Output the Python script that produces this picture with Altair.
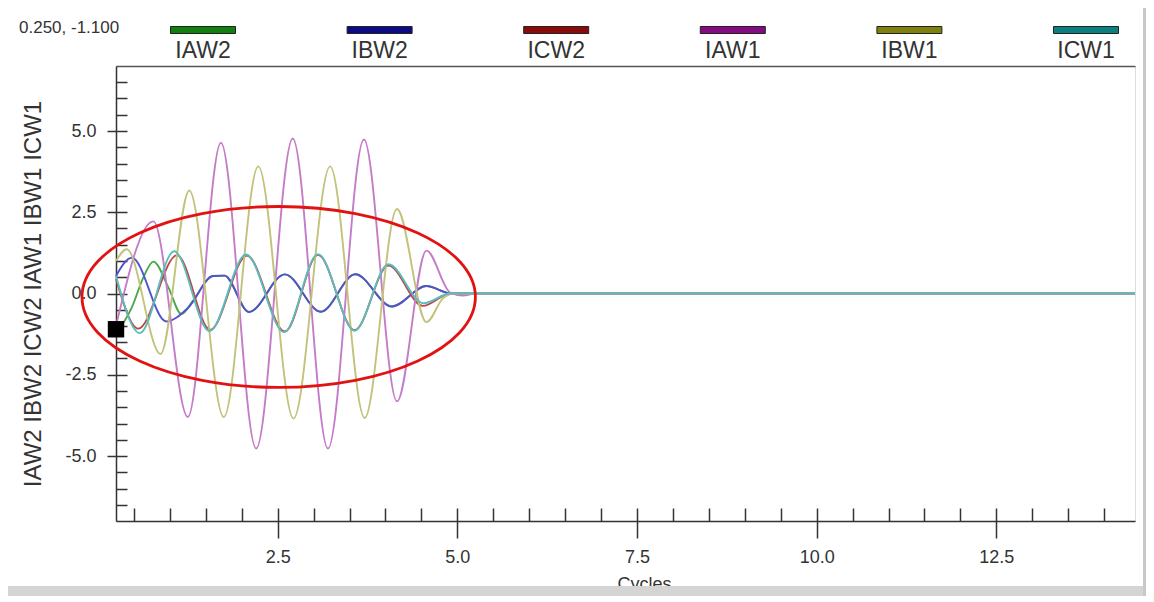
import altair as alt
import pandas as pd

# ---------------- data ----------------
series_names = ["IAW2", "IBW2", "ICW2", "IAW1", "IBW1", "ICW1"]
line_colors = ["#4aa84a", "#5252cc", "#b84a4a", "#c47cc8", "#c2c27a", "#5cbcbc"]
swatch_colors = ["#0f7f0f", "#0b0b85", "#8a0b0b", "#850b85", "#80800f", "#0b8080"]

iaw2_x = [0.25, 0.47, 0.63, 0.77, 0.98, 1.16, 1.32, 1.60, 1.76, 2.10, 2.60, 3.10, 3.58, 4.09, 4.57, 4.92, 14.43]
iaw2_y = [-1.25, -0.43, 0.49, 0.98, 0.18, -0.63, -0.23, 0.54, 0.55, -0.57, 0.59, -0.56, 0.59, -0.40, 0.23, 0.0, 0.0]

ibw2_x = [0.25, 0.47, 0.95, 1.25, 1.60, 1.76, 2.10, 2.60, 3.10, 3.58, 4.09, 4.57, 4.92, 14.43]
ibw2_y = [0.54, 1.10, -0.86, -0.45, 0.54, 0.55, -0.57, 0.59, -0.56, 0.59, -0.40, 0.23, 0.0, 0.0]

icw2_x = [0.25, 0.56, 1.10, 1.56, 2.07, 2.60, 3.06, 3.57, 4.04, 4.52, 4.90, 14.43]
icw2_y = [0.45, -1.08, 1.18, -1.12, 1.17, -1.17, 1.19, -1.13, 0.86, -0.38, 0.0, 0.0]

iaw1_x = [0.25, 0.77, 1.25, 1.71, 2.20, 2.71, 3.20, 3.70, 4.16, 4.57, 4.90, 5.08, 5.25, 14.43]
iaw1_y = [-1.0, 2.22, -3.80, 4.64, -4.77, 4.77, -4.77, 4.74, -3.32, 1.32, 0.03, -0.06, 0.0, 0.0]

ibw1_x = [0.25, 0.40, 0.87, 1.27, 1.75, 2.23, 2.72, 3.23, 3.71, 4.16, 4.57, 4.80, 4.95, 14.43]
ibw1_y = [1.0, 1.36, -1.86, 3.17, -3.80, 3.91, -3.85, 3.91, -3.83, 2.60, -0.88, -0.15, 0.0, 0.0]

icw1_x = [0.25, 0.58, 1.06, 1.55, 2.06, 2.59, 3.06, 3.57, 4.04, 4.53, 4.90, 14.43]
icw1_y = [0.54, -1.22, 1.30, -1.16, 1.20, -1.19, 1.21, -1.15, 0.90, -0.30, 0.0, 0.0]

cursor_x = [0.25]
cursor_y = [-1.1]
cursor_label = ["0.250, -1.100"]

ellipse_x = [2.514]
ellipse_y = [-0.107]

x_domain = [0.25, 14.43]
y_domain = [-7.0, 7.0]
x_major = [2.5, 5.0, 7.5, 10.0, 12.5]
y_major = [-5.0, -2.5, 0.0, 2.5, 5.0]
x_minor = [i * 0.5 for i in range(1, 29)]
y_minor = [i * 0.5 for i in range(-13, 14)]

# ---------------- tables ----------------
xs = [iaw2_x, ibw2_x, icw2_x, iaw1_x, ibw1_x, icw1_x]
ys = [iaw2_y, ibw2_y, icw2_y, iaw1_y, ibw1_y, icw1_y]
rows = []
for name, sx, sy in zip(series_names, xs, ys):
    for a, b in zip(sx, sy):
        rows.append({"series": name, "x": a, "y": b})
df = pd.DataFrame(rows)

legend_df = pd.DataFrame({"series": series_names, "swatch": swatch_colors})
cursor_df = pd.DataFrame({"x": cursor_x, "y": cursor_y, "label": cursor_label})
ellipse_df = pd.DataFrame({"x": ellipse_x, "y": ellipse_y})
frame_df = pd.DataFrame({"k": [0]})

FONT = "Liberation Sans"
TXT = "#333333"
AX = "#333333"
W, H = 1019, 455

xs_scale = alt.Scale(domain=x_domain, nice=False, zero=False)
ys_scale = alt.Scale(domain=y_domain, nice=False, zero=False)
minus_fix = "replace(format(datum.value, '.1f'), '\u2212', '-')"

lines = alt.Chart(df).mark_line(interpolate="monotone", strokeWidth=1.9).encode(
    x=alt.X("x:Q", scale=xs_scale, axis=alt.Axis(
        orient="bottom", values=x_major, labelExpr=minus_fix, grid=False,
        tickSize=17, tickWidth=1.5, tickColor=AX, domainColor=AX, domainWidth=1.5,
        labelFontSize=18, labelFont=FONT, labelColor=TXT, labelPadding=10,
        title="Cycles", titleFont=FONT, titleFontSize=18, titleFontWeight="normal",
        titleColor=TXT, titleX=528, titleY=54, titleBaseline="top", titleAlign="center")),
    y=alt.Y("y:Q", scale=ys_scale, axis=alt.Axis(
        orient="left", values=y_major, labelExpr=minus_fix, grid=False,
        tickSize=9, tickWidth=1.5, tickColor=AX, domainColor=AX, domainWidth=1.5,
        labelFontSize=18, labelFont=FONT, labelColor=TXT, labelPadding=11,
        title="IAW2 IBW2 ICW2 IAW1 IBW1 ICW1", titleFont=FONT, titleFontSize=24,
        titleFontWeight="normal", titleColor=TXT, titleAngle=270, titleX=-83,
        titleY=227.5, titleAlign="center", titleBaseline="middle")),
    color=alt.Color("series:N", scale=alt.Scale(domain=series_names, range=line_colors), legend=None),
)

ELL = ("M-1,0C-1,-0.254,-0.552,-0.46,0,-0.46C0.552,-0.46,1,-0.254,1,0"
       "C1,0.254,0.552,0.46,0,0.46C-0.552,0.46,-1,0.254,-1,0Z")

ellipse = alt.Chart(ellipse_df).mark_point(
    shape=ELL, size=154764, filled=False, color="#e31212", strokeWidth=2.8, opacity=1
).encode(
    x=alt.X("x:Q", scale=xs_scale, axis=alt.Axis(
        orient="top", offset=-H, values=x_minor, tickSize=13, tickWidth=1.5,
        tickColor=AX, labels=False, domain=False, grid=False, title=None)),
    y=alt.Y("y:Q", scale=ys_scale, axis=alt.Axis(
        orient="right", offset=-W, values=y_minor, tickSize=11, tickWidth=1.5,
        tickColor=AX, labels=False, domain=False, grid=False, title=None)),
)

cursor = alt.Chart(cursor_df).mark_square(size=270, color="black", opacity=1).encode(
    x=alt.X("x:Q", scale=xs_scale, axis=alt.Axis(
        orient="top", ticks=False, labels=False, grid=False, title=None,
        domainColor="#555555", domainWidth=1.3)),
    y=alt.Y("y:Q", scale=ys_scale, axis=None),
)

cursor_text = alt.Chart(cursor_df).mark_text(
    align="left", baseline="middle", fontSize=17, font=FONT, color=TXT
).encode(x=alt.value(-97), y=alt.value(-38), text="label:N")

leg_scale = alt.Scale(type="point", domain=series_names, range=[87, 970], padding=0)
swatches = alt.Chart(legend_df).mark_tick(
    orient="horizontal", size=65, thickness=7, stroke="#222222", strokeWidth=1, opacity=1
).encode(
    x=alt.X("series:N", scale=leg_scale, axis=None),
    y=alt.value(-36),
    color=alt.Color("swatch:N", scale=None),
)
leg_text = alt.Chart(legend_df).mark_text(
    fontSize=23, font=FONT, color=TXT, baseline="middle", align="center"
).encode(
    x=alt.X("series:N", scale=leg_scale, axis=None),
    y=alt.value(-15),
    text="series:N",
)

# window frame of the screenshot (right edge and bottom band)
frame_bottom = alt.Chart(frame_df).mark_rect(color="#d4d4d4").encode(
    x=alt.value(-108), x2=alt.value(W + 11), y=alt.value(H + 65), y2=alt.value(H + 75)
)
frame_right = alt.Chart(frame_df).mark_rect(color="#c8c8c8").encode(
    x=alt.value(W + 8), x2=alt.value(W + 11), y=alt.value(-58), y2=alt.value(H + 75)
)

chart = alt.layer(
    lines, ellipse, cursor, cursor_text, swatches, leg_text, frame_bottom, frame_right
).resolve_scale(
    x="independent", y="independent"
).resolve_axis(
    x="independent", y="independent"
).properties(
    width=W, height=H,
    autosize=alt.AutoSizeParams(type="none"),
    padding={"left": 108, "top": 58, "right": 11, "bottom": 75},
    background="white",
).configure_view(stroke="transparent", strokeWidth=0).configure(font=FONT)

chart.save("out.html", embed_options={"renderer": "svg", "actions": False})
